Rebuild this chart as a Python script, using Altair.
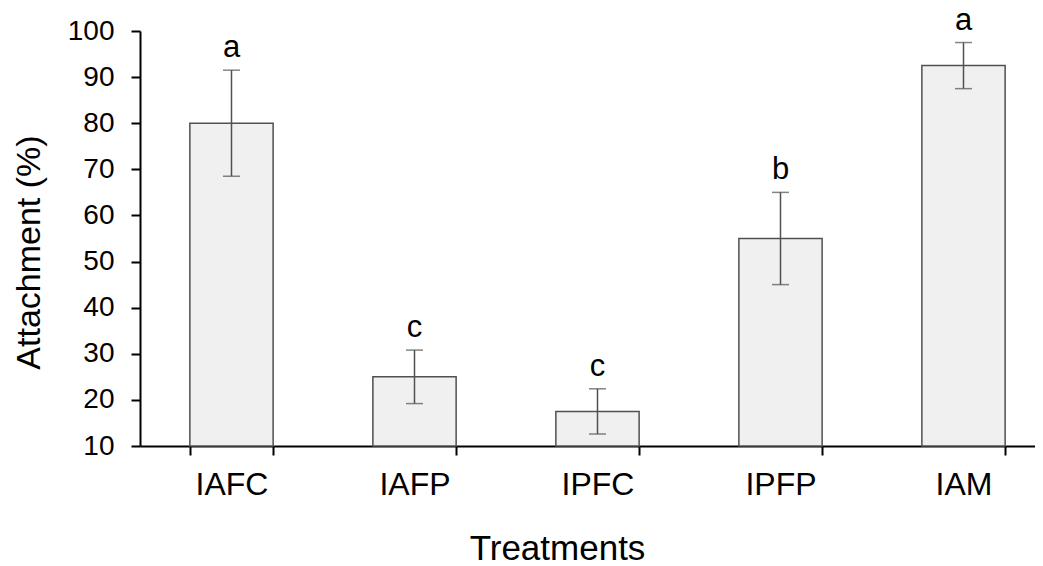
import altair as alt
import pandas as pd

treatments = ["IAFC", "IAFP", "IPFC", "IPFP", "IAM"]
means = [80.0, 25.0, 17.5, 55.0, 92.5]
errors = [11.5, 5.8, 4.9, 10.0, 5.0]
letters = ["a", "c", "c", "b", "a"]
y_ticks = [10, 20, 30, 40, 50, 60, 70, 80, 90, 100]

df = pd.DataFrame({
    "Treatment": treatments,
    "Mean": means,
    "Lower": [m - e for m, e in zip(means, errors)],
    "Upper": [m + e for m, e in zip(means, errors)],
    "Letter": letters,
})

FONT = "Liberation Sans"

x_enc = alt.X(
    "Treatment:N",
    sort=treatments,
    scale=alt.Scale(range=[0, 915], paddingInner=0.545, paddingOuter=0.2725),
    axis=alt.Axis(
        title="Treatments",
        titleFont=FONT, titleFontSize=35, titleFontWeight="normal", titleColor="black",
        titleBaseline="alphabetic", titleX=417, titleY=113, titleAlign="center",
        labelFont=FONT, labelFontSize=32, labelColor="black", labelAngle=0,
        labelPadding=14,
        tickBand="extent", ticks=True, tickSize=9, tickColor="black", tickWidth=2,
        domainColor="black", domainWidth=2, grid=False,
    ),
)

y_scale = alt.Scale(domain=[10, 100], nice=False, zero=False)

bars = alt.Chart(df).mark_bar(
    fill="#f0f0f0", stroke="#505050", strokeWidth=1.5
).encode(
    x=x_enc,
    y=alt.Y(
        "Mean:Q",
        scale=y_scale,
        axis=alt.Axis(
            title="Attachment (%)",
            titleFont=FONT, titleFontSize=34, titleFontWeight="normal", titleColor="black",
            titleAngle=270, titleBaseline="alphabetic", titleX=-101, titleY=221,
            titleAlign="center",
            values=y_ticks,
            labelFont=FONT, labelFontSize=28, labelColor="black",
            labelPadding=17,
            tickSize=9, tickColor="black", tickWidth=2,
            domainColor="black", domainWidth=2, grid=False,
        ),
    ),
    y2=alt.datum(10),
)

rules = alt.Chart(df).mark_rule(color="#505050", strokeWidth=1.5).encode(
    x=alt.X("Treatment:N", sort=treatments),
    y=alt.Y("Lower:Q", scale=y_scale),
    y2="Upper:Q",
)

caps_top = alt.Chart(df).mark_tick(
    color="#505050", size=17, thickness=1.5, orient="horizontal"
).encode(
    x=alt.X("Treatment:N", sort=treatments),
    y=alt.Y("Upper:Q", scale=y_scale),
)

caps_bottom = alt.Chart(df).mark_tick(
    color="#505050", size=17, thickness=1.5, orient="horizontal"
).encode(
    x=alt.X("Treatment:N", sort=treatments),
    y=alt.Y("Lower:Q", scale=y_scale),
)

labels = alt.Chart(df).mark_text(
    font=FONT, fontSize=31, color="black", baseline="alphabetic", dy=-13
).encode(
    x=alt.X("Treatment:N", sort=treatments),
    y=alt.Y("Upper:Q", scale=y_scale),
    text="Letter:N",
)

chart = alt.layer(bars, rules, caps_top, caps_bottom, labels).properties(
    width=895,
    height=415,
    autosize=alt.AutoSizeParams(type="none"),
    padding={"left": 132, "top": 23, "right": 0, "bottom": 117},
    background="white",
).configure_view(stroke=None)

chart.save("out.html", embed_options={"renderer": "svg", "actions": False})
